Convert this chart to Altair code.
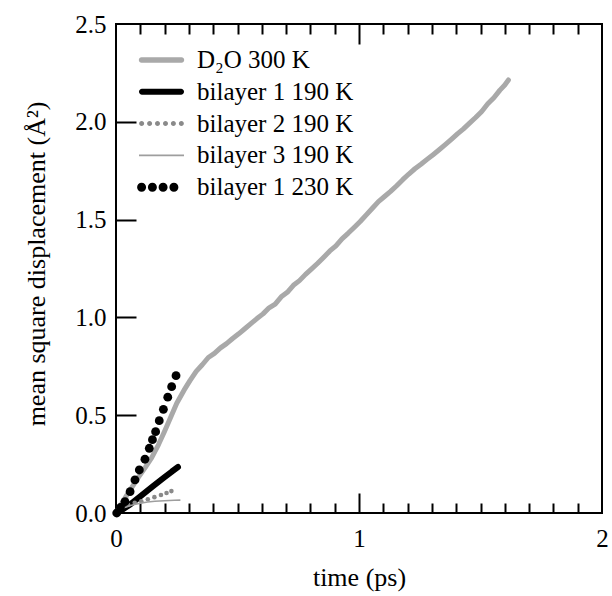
import altair as alt
import pandas as pd

# ---------------- data ----------------
series = ["D₂O 300 K", "bilayer 1 190 K", "bilayer 2 190 K", "bilayer 3 190 K", "bilayer 1 230 K"]
colors = ["#a9a9a9", "#000000", "#8a8a8a", "#9e9e9e", "#000000"]

d2o_t = [0.0, 0.02, 0.044, 0.07, 0.092, 0.12, 0.147, 0.175, 0.2, 0.225, 0.25, 0.28, 0.305, 0.33,
         0.355, 0.38, 0.405, 0.43, 0.455, 0.48, 0.505, 0.53, 0.555, 0.58, 0.605, 0.63, 0.655,
         0.68, 0.705, 0.73, 0.755, 0.78, 0.805, 0.83, 0.855, 0.88, 0.905, 0.93, 0.955, 0.98,
         1.005, 1.03, 1.055, 1.08, 1.105, 1.13, 1.155, 1.18, 1.205, 1.23, 1.255, 1.28, 1.305,
         1.33, 1.355, 1.38, 1.405, 1.43, 1.455, 1.48, 1.505, 1.53, 1.555, 1.58, 1.6, 1.615]
d2o_msd = [0.0, 0.04, 0.09, 0.14, 0.182, 0.232, 0.283, 0.35, 0.418, 0.49, 0.561, 0.628, 0.678,
           0.724, 0.758, 0.795, 0.816, 0.844, 0.866, 0.892, 0.916, 0.942, 0.968, 0.994, 1.018,
           1.049, 1.068, 1.105, 1.128, 1.164, 1.188, 1.22, 1.248, 1.277, 1.308, 1.34, 1.366,
           1.402, 1.43, 1.46, 1.49, 1.524, 1.558, 1.592, 1.618, 1.644, 1.673, 1.704, 1.733, 1.76,
           1.783, 1.808, 1.832, 1.857, 1.883, 1.91, 1.938, 1.964, 1.993, 2.022, 2.053, 2.092,
           2.123, 2.162, 2.188, 2.214]

b1_190_t = [0.0, 0.03, 0.06, 0.1, 0.15, 0.2, 0.23, 0.255]
b1_190_msd = [0.0, 0.02, 0.045, 0.085, 0.135, 0.183, 0.212, 0.235]

b2_190_t = [0.0, 0.025, 0.05, 0.077, 0.104, 0.131, 0.158, 0.185, 0.208, 0.228]
b2_190_msd = [0.0, 0.028, 0.042, 0.052, 0.06, 0.07, 0.081, 0.092, 0.102, 0.112]

b3_190_t = [0.0, 0.01, 0.02, 0.04, 0.06, 0.08, 0.1, 0.13, 0.16, 0.2, 0.24, 0.265]
b3_190_msd = [0.0, 0.012, 0.02, 0.03, 0.038, 0.045, 0.05, 0.056, 0.06, 0.063, 0.065, 0.066]

b1_230_t = [0.003, 0.018, 0.037, 0.058, 0.078, 0.096, 0.119, 0.137, 0.15, 0.163, 0.178, 0.195,
            0.213, 0.229, 0.247]
b1_230_msd = [0.0, 0.028, 0.058, 0.109, 0.169, 0.22, 0.275, 0.331, 0.375, 0.416, 0.472, 0.53,
              0.592, 0.646, 0.702]

x_label_values = [0, 1, 2]
x_minor_ticks = [0.1, 0.2, 0.3, 0.4, 0.5, 0.6, 0.7, 0.8, 0.9, 1.1, 1.2, 1.3, 1.4, 1.5, 1.6, 1.7, 1.8, 1.9]
x_major_ticks = [1]
y_label_values = [0.0, 0.5, 1.0, 1.5, 2.0, 2.5]
y_major_ticks = [0.5, 1.0, 1.5, 2.0]

# ---------------- styling ----------------
W, H = 486, 489
FONT = "Liberation Serif"
TICK_FS = 25
TITLE_FS = 26
LEGEND_FS = 25


def dots_path(centers, r):
    parts = []
    for c in centers:
        parts.append(f"M{c - r},0A{r},{r} 0 1 0 {c + r},0A{r},{r} 0 1 0 {c - r},0Z")
    return "".join(parts)


def bar_path(half_len, half_h):
    return (f"M{-half_len},{-half_h}H{half_len}A{half_h},{half_h} 0 0 1 {half_len},{half_h}"
            f"H{-half_len}A{half_h},{half_h} 0 0 1 {-half_len},{-half_h}Z")


legend_shapes = [
    bar_path(2.0, 0.27),
    bar_path(1.95, 0.3),
    dots_path([-1.985, -1.19, -0.4, 0.4, 1.19, 1.985], 0.25),
    "M-2.25,-0.08H2.25V0.08H-2.25Z",
    dots_path([-1.99, -0.91, 0.16, 1.24], 0.45),
]

xs = alt.Scale(domain=[0, 2], nice=False, zero=False)
ys = alt.Scale(domain=[0, 2.5], nice=False, zero=False)


def tick_axis(orient, offset, values, size):
    return alt.Axis(orient=orient, offset=offset, values=values, tickSize=size, tickWidth=2,
                    tickColor="black", labels=False, domain=False, grid=False, title=None)


x_label_axis = alt.Axis(orient="bottom", values=x_label_values, format=".0f", ticks=False,
                        domain=False, grid=False,
                        labelFont=FONT, labelFontSize=TICK_FS, labelColor="black", labelPadding=25,
                        labelBaseline="middle", labelFlush=False, labelOverlap=False,
                        title="time (ps)", titleFont=FONT, titleFontSize=TITLE_FS,
                        titleFontWeight="normal", titleColor="black", titleX=W / 2, titleY=64,
                        titleBaseline="middle", titleAlign="center")
y_label_axis = alt.Axis(orient="left", values=y_label_values, format=".1f", ticks=False, domain=False,
                        grid=False, labelFont=FONT, labelFontSize=TICK_FS, labelColor="black",
                        labelPadding=10, labelFlush=False, labelOverlap=False,
                        title="mean square displacement (Å²)", titleFont=FONT, titleFontSize=TITLE_FS,
                        titleFontWeight="normal", titleColor="black", titleX=-80, titleY=H / 2 - 5,
                        titleAngle=270, titleBaseline="middle", titleAlign="center")


def df(t, v):
    return pd.DataFrame({"t": t, "msd": v})


d2o = alt.Chart(df(d2o_t, d2o_msd)).mark_line(
    color=colors[0], strokeWidth=5, strokeCap="round", strokeJoin="round"
).encode(
    x=alt.X("t:Q", scale=xs, axis=x_label_axis),
    y=alt.Y("msd:Q", scale=ys, axis=y_label_axis),
)

b1_190 = alt.Chart(df(b1_190_t, b1_190_msd)).mark_line(
    color=colors[1], strokeWidth=6, strokeCap="round", strokeJoin="round"
).encode(
    x=alt.X("t:Q", scale=xs, axis=tick_axis("top", -H, x_minor_ticks, 10)),
    y=alt.Y("msd:Q", scale=ys, axis=tick_axis("right", -W, y_major_ticks, 20)),
)

b2_190 = alt.Chart(df(b2_190_t, b2_190_msd)).mark_circle(
    color=colors[2], size=21, opacity=1
).encode(
    x=alt.X("t:Q", scale=xs, axis=tick_axis("top", -H, x_major_ticks, 20)),
    y=alt.Y("msd:Q", scale=ys, axis=None),
)

b3_190 = alt.Chart(df(b3_190_t, b3_190_msd)).mark_line(
    color=colors[3], strokeWidth=1.6
).encode(
    x=alt.X("t:Q", scale=xs, axis=tick_axis("bottom", -H, x_minor_ticks, 10)),
    y=alt.Y("msd:Q", scale=ys, axis=None),
)

b1_230 = alt.Chart(df(b1_230_t, b1_230_msd)).mark_circle(
    color=colors[4], size=78, opacity=1
).encode(
    x=alt.X("t:Q", scale=xs, axis=tick_axis("bottom", -H, x_major_ticks, 20)),
    y=alt.Y("msd:Q", scale=ys, axis=None),
)

legend_def = alt.Legend(
    title=None, orient="none", legendX=23, legendY=23.5, padding=0,
    symbolSize=400, symbolStrokeWidth=0, symbolOffset=10, symbolOpacity=1,
    labelOffset=23, rowPadding=5.8, labelFont=FONT, labelFontSize=LEGEND_FS,
    labelColor="black", labelLimit=400,
)

legend_layer = alt.Chart(pd.DataFrame({"series": series})).mark_point(
    filled=True, opacity=0
).encode(
    color=alt.Color("series:N", scale=alt.Scale(domain=series, range=colors), legend=legend_def),
    shape=alt.Shape("series:N", scale=alt.Scale(domain=series, range=legend_shapes), legend=legend_def),
)

chart = alt.layer(d2o, b1_190, b2_190, b3_190, b1_230, legend_layer).resolve_axis(
    x="independent", y="independent"
).properties(
    width=W, height=H,
    autosize=alt.AutoSizeParams(type="none"),
    padding={"left": 116, "top": 24, "right": 10, "bottom": 83},
    background="white",
).configure(
    font=FONT
).configure_axis(
    labelFont=FONT, titleFont=FONT
).configure_legend(
    labelFont=FONT
).configure_view(stroke="black", strokeWidth=2)

chart.save("out.html", embed_options={"renderer": "svg", "actions": False})
